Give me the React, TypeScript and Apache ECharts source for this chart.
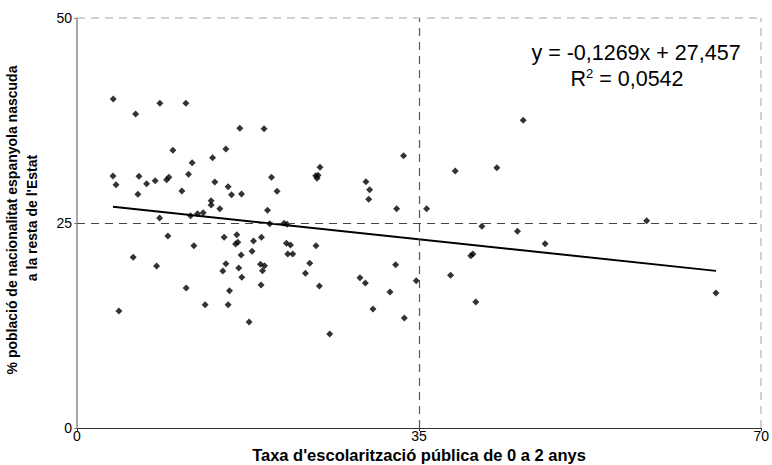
import React, { useEffect, useRef } from "react";
import * as echarts from "echarts";

// Public 0–2 enrolment rate (x) vs. share of residents born elsewhere in Spain (y)
const xValues = [
  3.71, 8.48, 11.14, 6.0, 16.66, 19.14, 9.81, 15.23, 11.78, 13.87,
  3.68, 6.34, 3.99, 7.12, 8.0, 9.17, 9.4, 11.41, 14.1, 15.46,
  6.23, 10.73, 15.81, 16.83, 13.72, 13.72, 14.61, 8.45, 11.62, 12.33,
  12.91, 9.3, 15.05, 16.35, 11.96, 16.22, 16.45, 5.75, 16.79, 8.14,
  15.23, 14.92, 16.55, 16.86, 11.17, 15.6, 13.11, 15.46, 4.29, 17.61,
  33.41, 24.86, 19.9, 24.42, 24.66, 24.56, 29.56, 29.94, 29.84, 20.47,
  19.49, 32.7, 19.72, 21.18, 21.49, 18.06, 18.87, 21.43, 21.84, 24.45,
  17.91, 21.56, 22.07, 18.77, 19.18, 18.98, 23.81, 23.37, 18.83, 24.8,
  28.95, 29.5, 32.6, 32.02, 30.28, 33.49, 25.85, 45.65, 38.7, 42.95,
  35.77, 58.28, 41.42, 45.06, 47.89, 40.29, 40.5, 34.71, 38.22, 40.8,
  65.37,
];
const yValues = [
  40.12, 39.6, 39.6, 38.3, 36.55, 36.5, 33.87, 34.02, 32.35, 32.96,
  30.73, 30.7, 29.67, 29.79, 30.16, 30.28, 30.57, 30.94, 30.0, 29.43,
  28.5, 28.9, 28.45, 28.54, 27.72, 27.2, 26.74, 25.61, 25.89, 26.13,
  26.26, 23.41, 23.26, 23.57, 22.23, 22.44, 22.65, 20.82, 21.1, 19.76,
  20.04, 19.15, 19.51, 18.38, 17.07, 16.74, 15.04, 15.04, 14.27, 12.93,
  33.21, 31.79, 30.57, 30.77, 30.82, 30.45, 30.04, 29.06, 27.89, 28.87,
  26.55, 26.74, 24.91, 24.96, 24.84, 22.8, 23.26, 22.52, 22.32, 22.23,
  21.55, 21.22, 21.22, 19.96, 19.79, 19.18, 20.09, 18.87, 17.44, 17.32,
  18.33, 17.68, 19.91, 16.59, 14.51, 13.41, 11.46, 37.52, 31.34, 31.74,
  26.74, 25.28, 24.6, 23.99, 22.48, 21.01, 21.22, 17.96, 18.62, 15.37,
  16.46,
];

// Axis ticks
const xTicks = [0, 35, 70];
const yTicks = [0, 25, 50];

// Linear trend shown in the annotation
const slope = -0.1269;
const intercept = 27.457;
const rSquared = 0.0542;

const fmt = (v: number, d: number) => v.toFixed(d).replace(".", ",");

export default function App() {
  const ref = useRef<HTMLDivElement>(null);

  useEffect(() => {
    if (!ref.current) return;
    const chart = echarts.init(ref.current, undefined, { renderer: "svg" });

    const points = xValues.map((x, i) => [x, yValues[i]]);
    const xMin = Math.min(...xValues);
    const xMax = Math.max(...xValues);
    const trend = [
      [xMin, slope * xMin + intercept],
      [xMax, slope * xMax + intercept],
    ];

    const font = "'Liberation Sans', Arial, sans-serif";
    const eq = `y = ${fmt(slope, 4)}x + ${fmt(intercept, 3)}`;

    chart.setOption({
      animation: false,
      backgroundColor: "#ffffff",
      grid: { left: 77, right: 10, top: 18, bottom: 37, containLabel: false },
      xAxis: {
        type: "value",
        min: xTicks[0],
        max: xTicks[xTicks.length - 1],
        interval: xTicks[1] - xTicks[0],
        axisLine: { show: true, onZero: false, lineStyle: { color: "#333333", width: 1 } },
        axisTick: { show: true, length: 3, lineStyle: { color: "#333333" } },
        axisLabel: { color: "#000000", fontFamily: font, fontSize: 14, margin: 1 },
        splitLine: { show: false },
      },
      yAxis: {
        type: "value",
        min: yTicks[0],
        max: yTicks[yTicks.length - 1],
        interval: yTicks[1] - yTicks[0],
        axisLine: { show: true, onZero: false, lineStyle: { color: "#8a8a8a", width: 1.5 } },
        axisTick: { show: true, length: 3, lineStyle: { color: "#8a8a8a" } },
        axisLabel: { color: "#000000", fontFamily: font, fontSize: 14, margin: 5 },
        splitLine: { show: false },
      },
      graphic: [
        {
          type: "text",
          x: 636,
          y: 53,
          style: {
            text: eq,
            fontFamily: font,
            fontSize: 21.5,
            fill: "#000000",
            align: "center",
            verticalAlign: "middle",
          },
        },
        {
          type: "text",
          x: 627,
          y: 79,
          style: {
            text: `{a|R}{s|2}{a| = ${fmt(rSquared, 4)}}`,
            fontFamily: font,
            fill: "#000000",
            align: "center",
            verticalAlign: "middle",
            rich: {
              a: { fontFamily: font, fontSize: 21.5, fill: "#000000" },
              s: { fontFamily: font, fontSize: 13, fill: "#000000", padding: [0, 0, 12, 0] },
            },
          },
        },
        {
          type: "text",
          x: 419,
          y: 455,
          style: {
            text: "Taxa d'escolarització pública de 0 a 2 anys",
            fontFamily: font,
            fontWeight: "bold",
            fontSize: 16.5,
            fill: "#000000",
            align: "center",
            verticalAlign: "middle",
          },
        },
        {
          type: "text",
          x: 12,
          y: 220,
          rotation: Math.PI / 2,
          style: {
            text: "% població de nacionalitat espanyola nascuda",
            fontFamily: font,
            fontWeight: "bold",
            fontSize: 14,
            fill: "#000000",
            align: "center",
            verticalAlign: "middle",
          },
        },
        {
          type: "text",
          x: 32,
          y: 218,
          rotation: Math.PI / 2,
          style: {
            text: "a la resta de l'Estat",
            fontFamily: font,
            fontWeight: "bold",
            fontSize: 14,
            fill: "#000000",
            align: "center",
            verticalAlign: "middle",
          },
        },
      ],
      series: [
        {
          type: "scatter",
          data: points,
          symbol: "diamond",
          symbolSize: 7,
          itemStyle: { color: "#000000" },
          z: 3,
          markLine: {
            silent: true,
            symbol: "none",
            label: { show: false },
            data: [
              { xAxis: xTicks[1], lineStyle: { color: "#555555", type: [8, 6], width: 1.2 } },
              { yAxis: yTicks[1], lineStyle: { color: "#444444", type: [8, 6], width: 1.2 } },
              { xAxis: xTicks[2], lineStyle: { color: "#c4c4c4", type: [8, 6], width: 1.5 } },
              { yAxis: yTicks[2], lineStyle: { color: "#c4c4c4", type: [8, 6], width: 1.5 } },
            ],
          },
        },
        {
          type: "line",
          data: trend,
          symbol: "none",
          lineStyle: { color: "#000000", width: 2 },
          z: 4,
        },
      ],
    });

    return () => chart.dispose();
  }, []);

  return (
    <div
      ref={ref}
      style={{ position: "fixed", left: 0, top: 0, width: 772, height: 465 }}
    />
  );
}
